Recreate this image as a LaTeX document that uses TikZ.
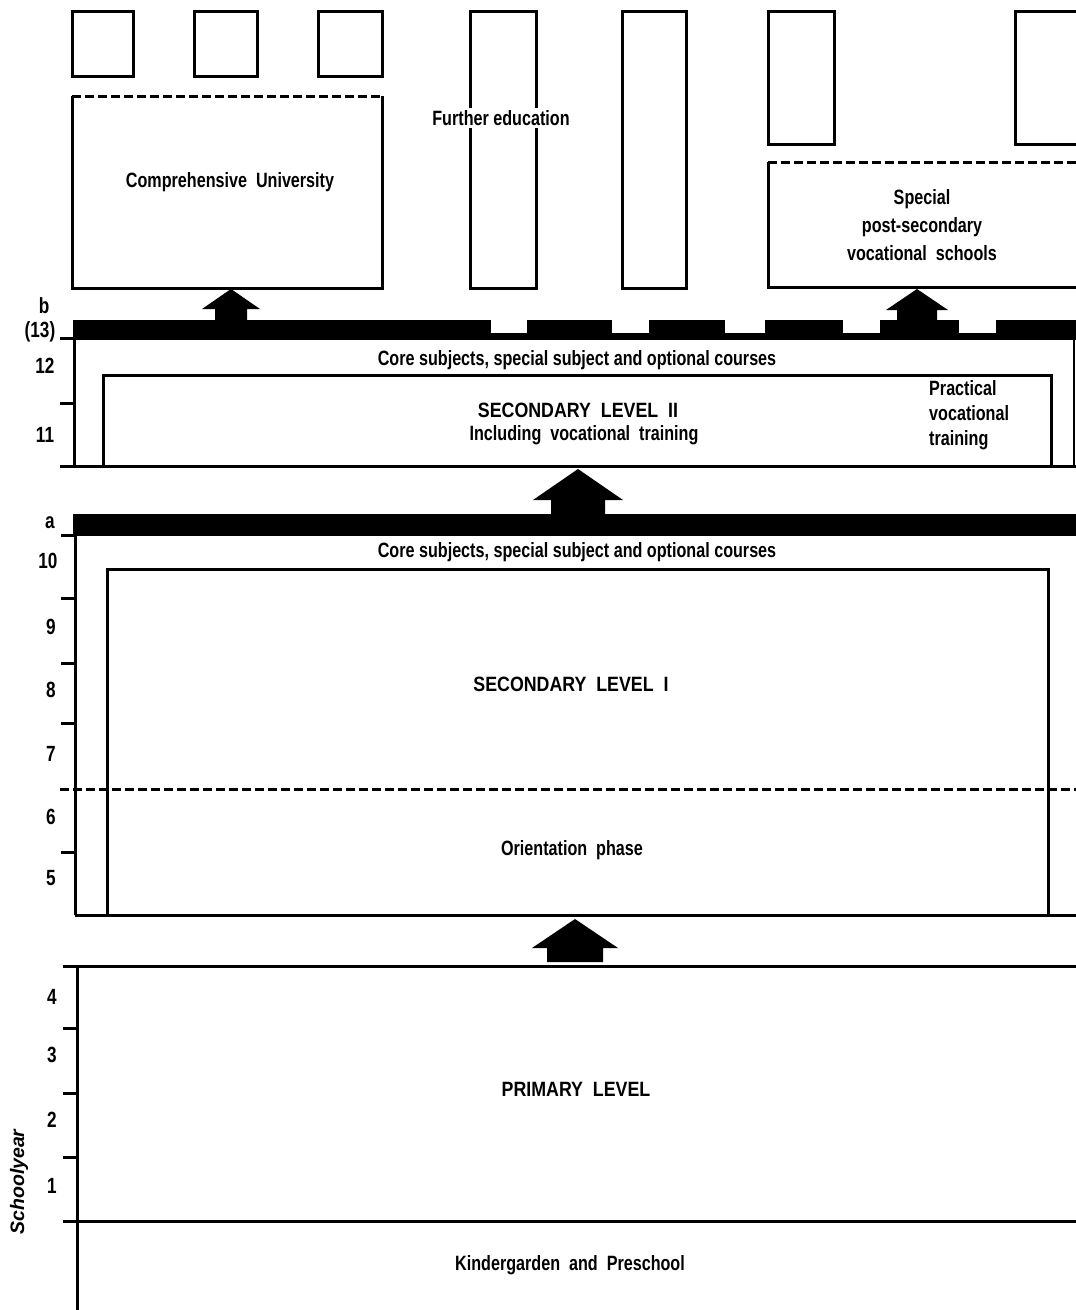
\documentclass[tikz,border=0pt]{standalone}
\usepackage{fontspec}
\setmainfont{Liberation Sans}[FakeStretch=0.78]
\newfontfamily\capsfont{Liberation Sans}[FakeStretch=0.86]
\newfontfamily\axisfont{Liberation Sans}
% upward block arrow: #1 x of axis, #2 tip y, #3 head base y, #4 foot y, #5 head half width, #6 shaft half width
\newcommand\upblock[6]{%
  \fill (#1,#2) -- (#1+#5,#3) -- (#1+#6,#3) -- (#1+#6,#4) -- (#1-#6,#4)
        -- (#1-#6,#3) -- (#1-#5,#3) -- cycle;}
\begin{document}
\begin{tikzpicture}[x=1pt,y=-1pt,
  frame/.style={line width=3pt},
  hairframe/.style={line width=1.6pt},
  dashtop/.style={line width=3pt, dash pattern=on 9pt off 4pt},
  lbl/.style={font=\bfseries\fontsize{20.7}{25}\selectfont, inner sep=1pt, align=center},
  caps/.style={font=\capsfont\bfseries\fontsize{20.7}{25}\selectfont, inner sep=1pt, align=center},
  num/.style={font=\bfseries\fontsize{22}{24}\selectfont, inner sep=0pt},
  tickmark/.style={line width=3pt}
]
\clip (0,0) rectangle (1076,1310);
\fill[white] (0,0) rectangle (1076,1310);

% ---------- tertiary level: boxes at the top ----------
\draw[frame] (72,11) rectangle (133,76);
\draw[frame] (194,11) rectangle (257,76);
\draw[frame] (318,11) rectangle (382,76);
\draw[frame] (470,11) rectangle (536,288);
\draw[frame] (622,11) rectangle (686,288);
\draw[frame] (768,11) rectangle (834,144);
\draw[frame] (1015,11) rectangle (1090,144);

% university, dashed upper edge
\draw[frame] (72,96) -- (72,288) -- (382,288) -- (382,96);
\draw[dashtop] (72,96) -- (382,96);
\node[lbl] (uni) at (230,182) {Comprehensive\ \ University};

% further education label over the tall box
\node[lbl, fill=white, inner sep=2pt] (further) at (501,118) {Further education};

% special post-secondary schools, dashed upper edge
\draw[frame] (768,162) -- (768,287) -- (1090,287);
\draw[dashtop] (768,162) -- (1090,162);
\node[lbl, font=\bfseries\fontsize{20.7}{28}\selectfont] (special) at (922,225)
  {Special\\post-secondary\\vocational\ \ schools};

% arrows into tertiary level
\upblock{231}{289}{309}{322}{29}{16}
\upblock{917}{289}{310}{322}{31}{20}

% ---------- bar b with notches ----------
\fill (73,333) rectangle (1090,340);
\foreach \a/\b in {73/491, 527/612, 649/725, 765/843, 880/959, 996/1090}
  \fill (\a,320) rectangle (\b,334);

% ---------- secondary level II ----------
\draw[frame] (74,320) -- (74,466);
\draw[hairframe] (1074,340) -- (1074,466);
\draw[frame] (60,466) -- (1090,466);
\draw[frame] (103,466) -- (103,375) -- (1051,375) -- (1051,466);
\node[lbl] (core2) at (577,360) {Core subjects, special subject and optional courses};
\node[caps] (sec2) at (578,410) {SECONDARY\ \ LEVEL\ \ II};
\node[lbl] (incl) at (584,435) {Including\ \ vocational\ \ training};
\node[lbl, align=left, anchor=west, font=\bfseries\fontsize{20.7}{25}\selectfont] (practical) at (928,415)
  {Practical\\vocational\\training};

\upblock{578}{469}{500}{516}{45}{27}

% ---------- bar a ----------
\fill (73,514) rectangle (1090,536);

% ---------- secondary level I ----------
\draw[frame] (75,514) -- (75,915);
\draw[frame] (75,915) -- (1090,915);
\draw[frame] (107,915) -- (107,569) -- (1048,569) -- (1048,915);
\draw[dashtop] (60,789) -- (1090,789);
\node[lbl] (core1) at (577,552) {Core subjects, special subject and optional courses};
\node[caps] (sec1) at (571,684) {SECONDARY\ \ LEVEL\ \ I};
\node[lbl] (orient) at (572,850) {Orientation\ \ phase};

\upblock{575}{919}{948}{962}{43}{28}

% ---------- primary level and kindergarten ----------
\draw[frame] (63,966) -- (1090,966);
\draw[frame] (77,966) -- (77,1315);
\draw[frame] (63,1221) -- (1090,1221);
\node[caps] (primary) at (576,1089) {PRIMARY\ \ LEVEL};
\node[lbl] (kinder) at (570,1265) {Kindergarden\ \ and\ \ Preschool};

% ---------- school-year scale ----------
\foreach \y in {338,403} \draw[tickmark] (60,\y) -- (74,\y);
\foreach \y in {535,598,663,723,852} \draw[tickmark] (61,\y) -- (75,\y);
\foreach \y in {1028,1093,1157} \draw[tickmark] (63,\y) -- (77,\y);

\node[num] (yb)  at (44,306) {b};
\node[num] (y13) at (40,332) {(13)};
\node[num] (y12) at (45,366) {12};
\node[num] (y11) at (45,435) {11};
\node[num] (ya)  at (50,523) {a};
\node[num] (y10) at (48,561) {10};
\node[num] (y9)  at (51,627) {9};
\node[num] (y8)  at (51,690) {8};
\node[num] (y7)  at (51,754) {7};
\node[num] (y6)  at (51,817) {6};
\node[num] (y5)  at (51,878) {5};
\node[num] (y4)  at (52,997) {4};
\node[num] (y3)  at (52,1055) {3};
\node[num] (y2)  at (52,1120) {2};
\node[num] (y1)  at (52,1186) {1};
\node[rotate=90, inner sep=0pt, font=\axisfont\bfseries\itshape\fontsize{19.5}{22}\selectfont] (axis) at (19,1182) {Schoolyear};
\end{tikzpicture}
\end{document}
